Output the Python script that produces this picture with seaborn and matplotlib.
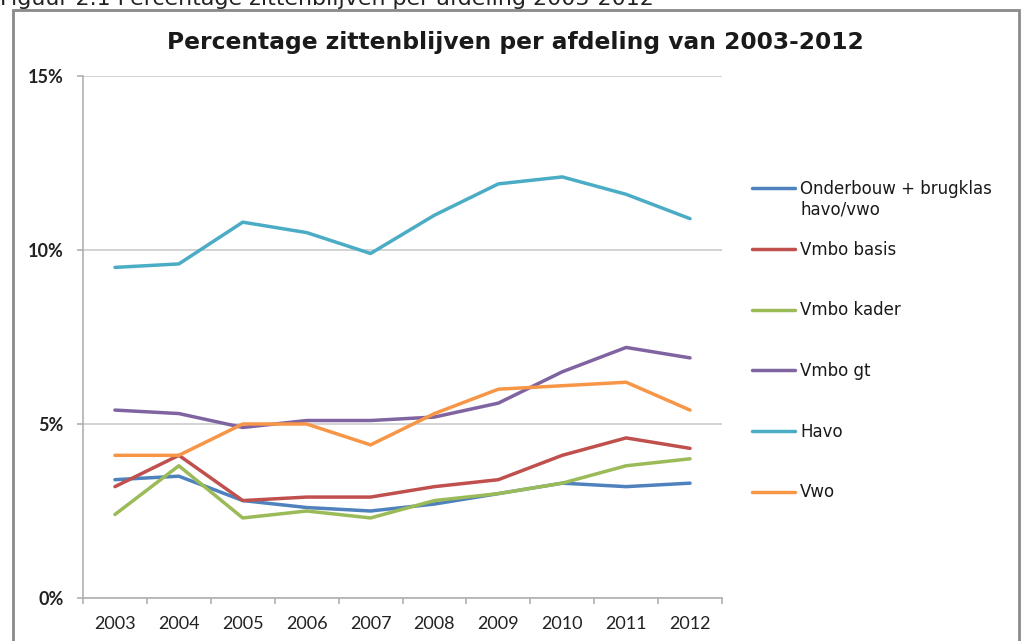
import pandas as pd
import matplotlib
matplotlib.use("Agg")
import matplotlib.pyplot as plt
from matplotlib.patches import Rectangle
from matplotlib.text import Annotation
from matplotlib.ticker import FuncFormatter, FixedLocator
import seaborn as sns

# Data (percentages)
years = [2003, 2004, 2005, 2006, 2007, 2008, 2009, 2010, 2011, 2012]
onderbouw = [3.4, 3.5, 2.8, 2.6, 2.5, 2.7, 3.0, 3.3, 3.2, 3.3]
vmbo_basis = [3.2, 4.1, 2.8, 2.9, 2.9, 3.2, 3.4, 4.1, 4.6, 4.3]
vmbo_kader = [2.4, 3.8, 2.3, 2.5, 2.3, 2.8, 3.0, 3.3, 3.8, 4.0]
vmbo_gt = [5.4, 5.3, 4.9, 5.1, 5.1, 5.2, 5.6, 6.5, 7.2, 6.9]
havo = [9.5, 9.6, 10.8, 10.5, 9.9, 11.0, 11.9, 12.1, 11.6, 10.9]
vwo = [4.1, 4.1, 5.0, 5.0, 4.4, 5.3, 6.0, 6.1, 6.2, 5.4]

# first legend label wraps onto a second line ("havo/vwo"), added below the legend entry
labels = ['Onderbouw + brugklas', 'Vmbo basis', 'Vmbo kader', 'Vmbo gt', 'Havo', 'Vwo']
label_wrap = 'havo/vwo'
colors = ['#4F81BD', '#C0504D', '#9BBB59', '#8064A2', '#4BACC6', '#F79646']

series = [onderbouw, vmbo_basis, vmbo_kader, vmbo_gt, havo, vwo]
df = pd.concat([pd.DataFrame({'Jaar': years, 'Percentage': vals, 'Afdeling': lab})
                for lab, vals in zip(labels, series)], ignore_index=True)

sns.set_style("white")
plt.rcParams['font.family'] = ['DejaVu Sans']

fig = plt.figure(figsize=(10.24, 6.41), dpi=100)
ax = fig.add_axes([83 / 1024, 1 - 598 / 641, (722 - 83) / 1024, (598 - 76) / 641])

sns.lineplot(data=df, x='Jaar', y='Percentage', hue='Afdeling', hue_order=labels,
             palette=colors, linewidth=2.5, ax=ax)

# Axes styling (Excel look)
ax.set_xlim(2002.5, 2012.5)
ax.set_ylim(0, 15)
ax.set_xlabel('')
ax.set_ylabel('')
ax.set_xticks(years)
ax.xaxis.set_minor_locator(FixedLocator([y - 0.5 for y in years] + [2012.5]))
ax.set_yticks([0, 5, 10, 15])
ax.yaxis.set_major_formatter(FuncFormatter(lambda v, p: f'{v:.0f}%'))
ax.yaxis.grid(True, color='#cccccc', linewidth=1.2)
ax.set_axisbelow(True)
for side in ['top', 'right']:
    ax.spines[side].set_visible(False)
for side in ['left', 'bottom']:
    ax.spines[side].set_color('#b0b0b0')
    ax.spines[side].set_linewidth(1.2)
ax.tick_params(axis='x', which='major', length=0, pad=13)
ax.tick_params(axis='x', which='minor', length=4, color='#b0b0b0', width=1.2,
               direction='out', bottom=True)
ax.tick_params(axis='y', length=4, color='#b0b0b0', width=1.2, pad=10,
               direction='out', left=True)
for t in ax.get_xticklabels() + ax.get_yticklabels():
    t.set_fontfamily('Lato')
    t.set_fontsize(13)
    t.set_color('#222222')
for t in ax.get_yticklabels():
    t.set_fontweight('bold')

sns.move_legend(ax, loc='upper left', bbox_to_anchor=(752 / 1024, 1 - 180 / 641),
                bbox_transform=fig.transFigure, frameon=False, title=None,
                fontsize=12, handlelength=2.6, handletextpad=0.3,
                labelspacing=2.56, borderpad=0, borderaxespad=0)
leg = ax.get_legend()
for line in leg.get_lines():
    line.set_linewidth(2.5)
for t in leg.get_texts():
    t.set_color('#1a1a1a')

wrap = Annotation(label_wrap, xy=(0, 0), xycoords=leg.get_texts()[0],
                  xytext=(0, -2), textcoords='offset points',
                  ha='left', va='top', fontsize=12, color='#1a1a1a')
fig.add_artist(wrap)

# Titles
fig.text(0.503, 1 - 42 / 641, 'Percentage zittenblijven per afdeling van 2003-2012',
         ha='center', va='center', fontsize=16.8, fontweight='bold', color='#1a1a1a')
fig.text(0.0, 1 - 5 / 641, 'Figuur 2.1 Percentage zittenblijven per afdeling 2003-2012',
         ha='left', va='baseline', fontsize=15.9, color='#222222')

# Chart frame
fig.patches.append(Rectangle((13 / 1024, -0.05), (1019 - 13) / 1024, 1.05 - 10 / 641,
                             transform=fig.transFigure, fill=False,
                             edgecolor='#8a8a8a', linewidth=2))

fig.savefig('out.png', dpi=100)
